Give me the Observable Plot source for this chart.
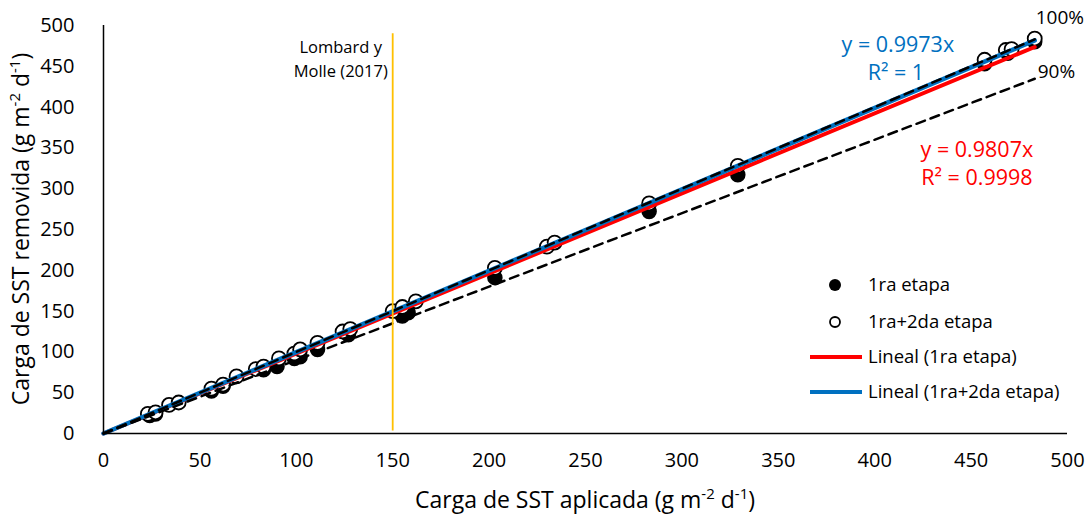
<!DOCTYPE html>
<html><head><meta charset="utf-8">
<script src="https://cdn.jsdelivr.net/npm/d3@7"></script>
<script src="https://cdn.jsdelivr.net/npm/@observablehq/plot@0.6"></script>
<style>body{margin:0;background:#fff}</style>
</head><body><div id="chart"></div>
<script>
// 1ra etapa (filled)
const applied1 = [24,27,56,62,83,90,99,102,111,127,155,158,203,283,329,457,469,483];
const removed1 = [22,24,52,58,78,82,92,94,103,121,144,148,191,272,317,453,466,480];
// 1ra+2da etapa (open)
const applied2 = [23,27,34,39,56,62,69,79,83,91,99,102,111,124,128,150,155,162,203,230,234,283,329,457,468,471,483];
const removed2 = [24,26,35,38,55,60,70,79,82,92,98,103,111,125,128,150,155,162,203,229,234,282,328,458,470,471,484];
const slope1 = 0.9807, slope2 = 0.9973;
const xMaxFit = 483;
const refLines = [{k:1, label:"100%"},{k:0.9, label:"90%"}];
const lombardX = 150;
const xTicks = [0,50,100,150,200,250,300,350,400,450,500];
const yTicks = [0,50,100,150,200,250,300,350,400,450,500];

const pts1 = applied1.map((x,i)=>({x, y: removed1[i]}));
const pts2 = applied2.map((x,i)=>({x, y: removed2[i]}));
const fit = k => [{x:0,y:0},{x:xMaxFit,y:k*xMaxFit}];
const F = "Open Sans";

const plot = Plot.plot({
  width: 1088, height: 517,
  marginLeft: 103, marginRight: 21, marginTop: 25, marginBottom: 84,
  style: {fontFamily: F, fontSize: "20px", color: "#000", background: "#fff"},
  x: {domain: [0,500], ticks: xTicks, tickSize: 0, tickPadding: 19, label: null},
  y: {domain: [0,500], ticks: yTicks, tickSize: 0, tickPadding: 29, label: null},
  marks: [
    Plot.dot(pts1, {x:"x", y:"y", r:7, fill:"#000", stroke:"#000"}),
    Plot.dot(pts2, {x:"x", y:"y", r:7, fill:"#fff", stroke:"#000", strokeWidth:1.8}),
    Plot.line(fit(slope1), {x:"x", y:"y", stroke:"#FF0000", strokeWidth:4}),
    Plot.line(fit(slope2), {x:"x", y:"y", stroke:"#0070C0", strokeWidth:4.5}),
    ...refLines.map(r => Plot.line(fit(r.k), {x:"x", y:"y", stroke:"#000", strokeWidth:2.5, strokeDasharray:"9,6"})),
    Plot.ruleX([lombardX], {y1: 3, y2: 490, stroke:"#FFC000", strokeWidth:1.8}),
    Plot.ruleX([0], {stroke:"#000", strokeWidth:1.5}),
    Plot.ruleY([0], {stroke:"#000", strokeWidth:1.5}),
    Plot.text([refLines[0]], {x: xMaxFit, y: d => d.k*xMaxFit, text: "label", textAnchor:"start", dx: 1, dy: -21, fontSize: 19, fill:"#000"}),
    Plot.text([refLines[1]], {x: xMaxFit, y: d => d.k*xMaxFit, text: "label", textAnchor:"start", dx: 3, dy: -7, fontSize: 19, fill:"#000"}),
    Plot.text(["Lombard y"], {x: lombardX, y: 500, text: d=>d, dx: -52, dy: 22, fontSize: 16.5, fill:"#000"}),
    Plot.text(["Molle (2017)"], {x: lombardX, y: 500, text: d=>d, dx: -52, dy: 46, fontSize: 16.5, fill:"#000"}),
    Plot.text(["y = 0.9973x"], {x: 412, y: 476, text: d=>d, fontSize: 21.5, fill:"#0070C0"}),
    Plot.text(["R² = 1"], {x: 411, y: 442, text: d=>d, fontSize: 21.5, fill:"#0070C0"}),
    Plot.text(["y = 0.9807x"], {x: 453, y: 347, text: d=>d, fontSize: 21.5, fill:"#FF0000"}),
    Plot.text(["R² = 0.9998"], {x: 453, y: 313, text: d=>d, fontSize: 21.5, fill:"#FF0000"})
  ]
});
document.getElementById("chart").append(plot);

const svg = d3.select(plot);
function title(g, base){
  const t = g.append("text").attr("font-family", F).attr("font-size", 23).attr("fill","#000").attr("text-anchor","middle");
  t.append("tspan").text(base + " (g m");
  t.append("tspan").attr("font-size", 15).attr("dy", -9).text("-2");
  t.append("tspan").attr("dy", 9).text(" d");
  t.append("tspan").attr("font-size", 15).attr("dy", -9).text("-1");
  t.append("tspan").attr("dy", 9).text(")");
  return t;
}
title(svg.append("g").attr("transform","translate(585,508)"), "Carga de SST aplicada");
title(svg.append("g").attr("transform","translate(29,229) rotate(-90)"), "Carga de SST removida");

// legend
const lg = svg.append("g").attr("font-family", F).attr("font-size", 18.5).attr("fill","#000").attr("text-anchor","start");
const items = [
  {type:"fill", label:"1ra etapa", y:285},
  {type:"open", label:"1ra+2da etapa", y:322},
  {type:"line", color:"#FF0000", label:"Lineal (1ra etapa)", y:357},
  {type:"line", color:"#0070C0", label:"Lineal (1ra+2da etapa)", y:392}
];
items.forEach(it => {
  if (it.type === "fill") lg.append("circle").attr("cx",835).attr("cy",it.y).attr("r",6).attr("fill","#000");
  else if (it.type === "open") lg.append("circle").attr("cx",835).attr("cy",it.y).attr("r",5).attr("fill","#fff").attr("stroke","#000").attr("stroke-width",1.8);
  else lg.append("line").attr("x1",810).attr("x2",862).attr("y1",it.y).attr("y2",it.y).attr("stroke",it.color).attr("stroke-width",4);
  lg.append("text").attr("x",868).attr("y",it.y).attr("dy","0.35em").text(it.label);
});
</script></body></html>
